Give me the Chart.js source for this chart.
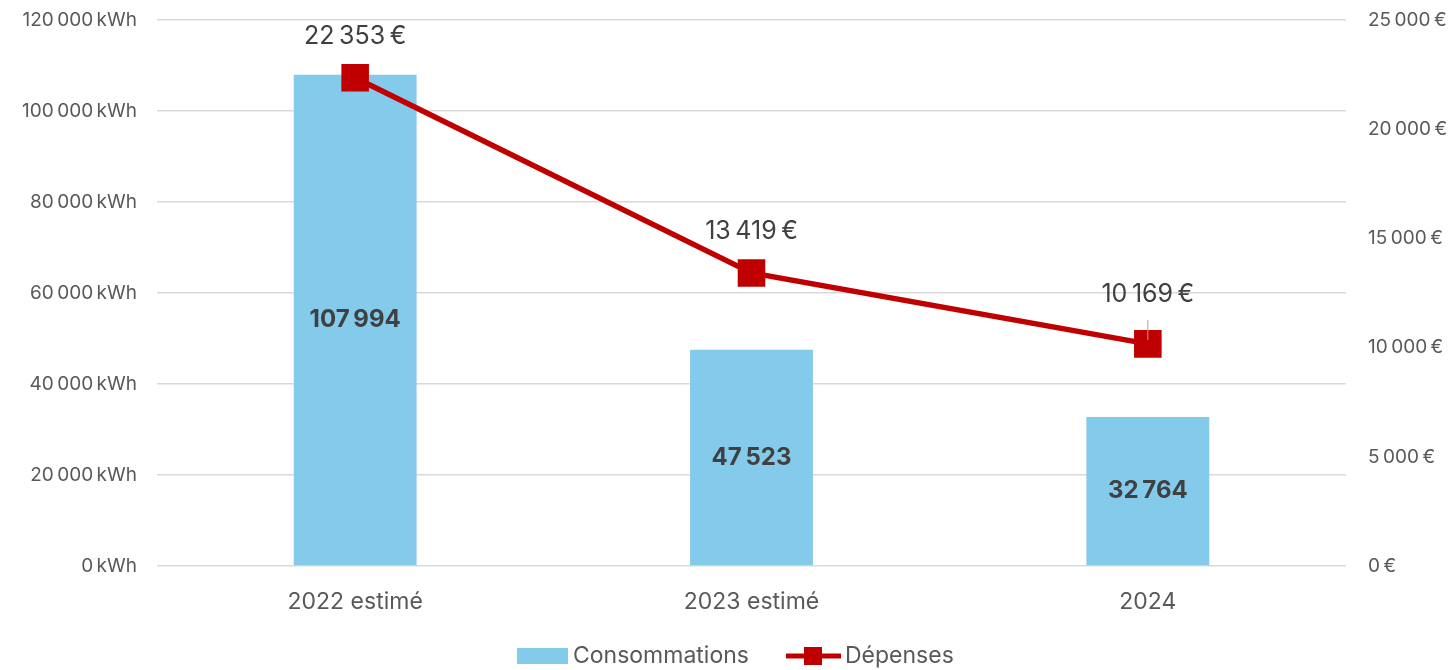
<!DOCTYPE html>
<html>
<head>
<meta charset="utf-8">
<script src="https://cdn.jsdelivr.net/npm/chart.js@4"></script>
<style>
  html, body { margin: 0; padding: 0; background: #fff; }
  #wrap { width: 1454px; height: 670px; }
</style>
</head>
<body>
<div id="wrap"><canvas id="chart" width="1454" height="670"></canvas></div>
<script>
// Data
const categories = ['2022 estimé', '2023 estimé', '2024'];
const consommations = [107994, 47523, 32764];   // kWh
const depenses = [22353, 13419, 10169];         // €
const kwhTicks = [0, 20000, 40000, 60000, 80000, 100000, 120000];
const euroTicks = [0, 5000, 10000, 15000, 20000, 25000];

const FONT = 'Inter, "Open Sans", sans-serif';
const NBSP = '\u202f';

function fmt(n) {
    return String(n).replace(/\B(?=(\d{3})+(?!\d))/g, NBSP);
}

// Data labels + legend drawn by hand
const labelsPlugin = {
    id: 'labelsPlugin',
    afterDatasetsDraw(chart) {
        const ctx = chart.ctx;
        ctx.save();
        ctx.textAlign = 'center';
        ctx.textBaseline = 'middle';

        // bar values, centred in each bar
        const barMeta = chart.getDatasetMeta(0);
        ctx.font = 'bold 24px ' + FONT;
        ctx.fillStyle = '#404040';
        barMeta.data.forEach((bar, i) => {
            const y = (bar.y + bar.base) / 2;
            ctx.fillText(fmt(consommations[i]), bar.x, y);
        });

        // line values above the markers
        const lineMeta = chart.getDatasetMeta(1);
        ctx.font = '25px ' + FONT;
        lineMeta.data.forEach((pt, i) => {
            const off = i === 2 ? 49 : 41;
            if (i === 2) {
                ctx.strokeStyle = '#A6A6A6';
                ctx.lineWidth = 1;
                ctx.beginPath();
                ctx.moveTo(pt.x, pt.y - 4);
                ctx.lineTo(pt.x, pt.y - 24);
                ctx.stroke();
            }
            ctx.fillStyle = '#404040';
            ctx.fillText(fmt(depenses[i]) + NBSP + '€', pt.x, pt.y - off);
        });

        // legend
        const ly = 656;
        ctx.font = '23px ' + FONT;
        ctx.textAlign = 'left';
        ctx.fillStyle = '#83CAEB';
        ctx.fillRect(517, ly - 8, 51, 16);
        ctx.fillStyle = '#595959';
        ctx.fillText('Consommations', 573, ly);

        ctx.strokeStyle = '#C00000';
        ctx.lineWidth = 5;
        ctx.beginPath();
        ctx.moveTo(786, ly);
        ctx.lineTo(841, ly);
        ctx.stroke();
        ctx.fillStyle = '#C00000';
        ctx.fillRect(804, ly - 9, 18, 18);
        ctx.fillStyle = '#595959';
        ctx.fillText('Dépenses', 845, ly);
        ctx.restore();
    }
};

function noVPad(scale) {
    scale.paddingTop = 0;
    scale.paddingBottom = 0;
}

const ctx = document.getElementById('chart').getContext('2d');
new Chart(ctx, {
    type: 'bar',
    data: {
        labels: categories,
        datasets: [
            {
                type: 'bar',
                label: 'Consommations',
                data: consommations,
                backgroundColor: '#83CAEB',
                yAxisID: 'y',
                barPercentage: 0.31,
                categoryPercentage: 1,
                order: 2
            },
            {
                type: 'line',
                label: 'Dépenses',
                data: depenses,
                borderColor: '#C00000',
                backgroundColor: '#C00000',
                borderWidth: 5.5,
                pointStyle: 'rect',
                pointRadius: 19.5,
                pointBorderWidth: 0,
                yAxisID: 'y1',
                order: 1
            }
        ]
    },
    options: {
        responsive: false,
        animation: false,
        layout: { padding: { top: 20, left: 0, right: 0, bottom: 0 } },
        plugins: {
            legend: { display: false },
            tooltip: { enabled: false }
        },
        scales: {
            x: {
                grid: { display: false },
                border: { display: false },
                ticks: {
                    color: '#595959',
                    font: { family: FONT, size: 23 },
                    padding: 14
                },
                afterFit(scale) { scale.height = 104; }
            },
            y: {
                position: 'left',
                min: 0,
                max: 120000,
                afterBuildTicks(scale) { scale.ticks = kwhTicks.map(v => ({ value: v })); },
                grid: { color: '#D9D9D9', lineWidth: 1.5, drawTicks: false },
                border: { display: false },
                ticks: {
                    color: '#595959',
                    font: { family: FONT, size: 19 },
                    padding: 20,
                    callback: v => fmt(v) + NBSP + 'kWh'
                },
                afterFit(scale) { scale.width = 157; noVPad(scale); }
            },
            y1: {
                position: 'right',
                min: 0,
                max: 25000,
                afterBuildTicks(scale) { scale.ticks = euroTicks.map(v => ({ value: v })); },
                grid: { display: false, drawTicks: false },
                border: { display: false },
                ticks: {
                    color: '#595959',
                    font: { family: FONT, size: 19 },
                    padding: 22,
                    callback: v => fmt(v) + NBSP + '€'
                },
                afterFit(scale) { scale.width = 108; noVPad(scale); }
            }
        }
    },
    plugins: [labelsPlugin]
});
</script>
</body>
</html>
